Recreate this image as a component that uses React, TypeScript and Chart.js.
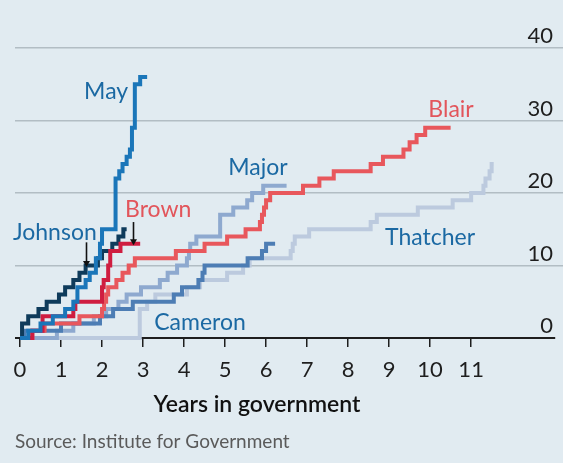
import React, { useEffect, useRef } from "react";
import { Chart, registerables } from "chart.js";

Chart.register(...registerables);

// ---- Data (years in government, cumulative count) ----
const mayYears = [0, 0.2, 0.5, 0.8, 1.1, 1.3, 1.4, 1.6, 1.7, 1.85, 1.95, 2.0, 2.33, 2.42, 2.5, 2.6, 2.68, 2.73, 2.8, 2.93, 3.1];
const mayCounts = [0, 1, 2, 3, 4, 5, 7, 8, 9, 11, 13, 15, 22, 23, 24, 25, 26, 29, 35, 36, 36];

const johnsonYears = [0, 0.05, 0.2, 0.45, 0.65, 0.95, 1.1, 1.3, 1.45, 1.6, 1.9, 2.0, 2.25, 2.4, 2.52, 2.6];
const johnsonCounts = [0, 2, 3, 4, 5, 6, 7, 8, 9, 10, 11, 12, 13, 14, 15, 15];

const brownYears = [0, 0.3, 0.55, 1.3, 1.35, 2.0, 2.04, 2.15, 2.2, 2.45, 2.93];
const brownCounts = [0, 1, 3, 4, 5, 7, 8, 10, 12, 13, 13];

const blairYears = [0, 0.3, 0.6, 1.45, 2.0, 2.05, 2.1, 2.15, 2.35, 2.5, 2.65, 2.8, 3.8, 4.5, 5.05, 5.5, 5.85, 5.9, 5.95, 6.0, 6.1, 6.9, 7.3, 7.65, 8.55, 8.85, 9.35, 9.5, 9.67, 9.88, 10.5];
const blairCounts = [0, 1, 2, 3, 4, 5, 6, 7, 8, 9, 10, 11, 12, 13, 14, 15, 16, 17, 18, 19, 20, 21, 22, 23, 24, 25, 26, 27, 28, 29, 29];

const cameronYears = [0, 0.1, 1.0, 1.95, 2.27, 2.75, 3.75, 3.95, 4.35, 4.45, 4.5, 5.55, 5.9, 6.0, 6.22];
const cameronCounts = [0, 1, 2, 3, 4, 5, 6, 7, 8, 9, 10, 11, 12, 13, 13];

const majorYears = [0, 0.9, 1.3, 1.8, 2.1, 2.4, 2.6, 2.95, 3.41, 3.6, 3.83, 4.07, 4.12, 4.15, 4.3, 4.88, 5.2, 5.54, 5.66, 5.93, 6.5];
const majorCounts = [0, 1, 2, 3, 4, 5, 6, 7, 8, 9, 10, 11, 12, 13, 14, 17, 18, 19, 20, 21, 21];

const thatcherYears = [0, 2.92, 3.1, 3.3, 4.07, 4.39, 5.05, 5.44, 5.6, 6.6, 6.65, 6.7, 7.05, 8.55, 8.7, 9.7, 10.55, 11.0, 11.3, 11.35, 11.45, 11.5, 11.55];
const thatcherCounts = [0, 4, 5, 6, 7, 8, 9, 10, 11, 12, 13, 14, 15, 16, 17, 18, 19, 20, 21, 22, 23, 24, 24];

const xTickValues = [0, 1, 2, 3, 4, 5, 6, 7, 8, 9, 10, 11];
const yTickValues = [0, 10, 20, 30, 40];

// Series labels (text, anchor in data units)
const labelNames = ["May", "Johnson", "Brown", "Blair", "Major", "Thatcher", "Cameron"];
const labelYears = [2.1, 0.85, 3.37, 10.51, 5.8, 10.0, 4.39];
const labelValues = [33.0, 13.5, 16.7, 30.5, 22.5, 12.8, 1.1];
const labelColors = ["#1b69a3", "#1b69a3", "#e2555b", "#e2555b", "#1b69a3", "#1b69a3", "#1b69a3"];

// Arrow annotations: x (years), from value, to value
const arrowYears = [1.61, 2.76];
const arrowFrom = [13.2, 16.0];
const arrowTo = [9.8, 12.8];

const xTitle = "Years in government";
const sourceText = "Source: Institute for Government";

const BG = "#e1ebf1";
const FONT = "Lato, 'Open Sans', sans-serif";

export default function App() {
  const ref = useRef<HTMLCanvasElement>(null);

  useEffect(() => {
    document.body.style.margin = "0";
    document.body.style.background = BG;
    const canvas = ref.current!;
    const pts = (xs: number[], ys: number[]) => xs.map((x, i) => ({ x, y: ys[i] }));
    const ds = (label: string, xs: number[], ys: number[], color: string) => ({
      label,
      data: pts(xs, ys),
      borderColor: color,
      backgroundColor: color,
      borderWidth: 4,
      stepped: "before" as const,
      pointRadius: 0,
      fill: false,
      clip: false as any,
      borderCapStyle: "butt" as const,
      borderJoinStyle: "miter" as const,
    });

    const overlay = {
      id: "overlay",
      beforeDraw(chart: any) {
        const c = chart.ctx;
        c.save();
        c.fillStyle = BG;
        c.fillRect(0, 0, chart.width, chart.height);
        c.restore();
      },
      beforeDatasetsDraw(chart: any) {
        const c = chart.ctx;
        const xs = chart.scales.x;
        const ys = chart.scales.y;
        const y0 = ys.getPixelForValue(0);
        c.save();
        c.strokeStyle = "#1e1e1e";
        c.lineWidth = 2;
        c.beginPath();
        c.moveTo(chart.chartArea.left, y0);
        c.lineTo(xs.getPixelForValue(13.05), y0);
        c.stroke();
        c.restore();
      },
      afterDatasetsDraw(chart: any) {
        const c = chart.ctx;
        const xs = chart.scales.x;
        const ys = chart.scales.y;
        const area = chart.chartArea;
        c.save();
        // series labels
        c.font = `23px ${FONT}`;
        c.textAlign = "center";
        c.textBaseline = "alphabetic";
        labelNames.forEach((n, i) => {
          c.fillStyle = labelColors[i];
          c.fillText(n, xs.getPixelForValue(labelYears[i]), ys.getPixelForValue(labelValues[i]));
        });
        // arrows
        c.strokeStyle = "#111";
        c.fillStyle = "#111";
        c.lineWidth = 1.6;
        arrowYears.forEach((ax, i) => {
          const px = Math.round(xs.getPixelForValue(ax)) + 0.5;
          const top = ys.getPixelForValue(arrowFrom[i]);
          const tip = ys.getPixelForValue(arrowTo[i]);
          c.beginPath();
          c.moveTo(px, top);
          c.lineTo(px, tip - 5);
          c.stroke();
          c.beginPath();
          c.moveTo(px - 3.5, tip - 6);
          c.lineTo(px + 3.5, tip - 6);
          c.lineTo(px, tip);
          c.closePath();
          c.fill();
        });
        // y tick labels (right, above gridlines)
        c.font = `22px ${FONT}`;
        c.fillStyle = "#1e1e1e";
        c.textAlign = "right";
        c.textBaseline = "alphabetic";
        yTickValues.forEach((v) => {
          c.fillText(String(v), area.right - 10, ys.getPixelForValue(v) - 5);
        });
        // x tick labels below tick marks
        c.textAlign = "center";
        xTickValues.forEach((v) => {
          c.fillText(String(v), xs.getPixelForValue(v), 377);
        });
        // axis title and source
        c.font = `600 23px ${FONT}`;
        c.fillStyle = "#111";
        c.textAlign = "center";
        c.fillText(xTitle, 257, 412);
        c.font = `19px ${FONT}`;
        c.fillStyle = "#5a5a5a";
        c.textAlign = "left";
        c.fillText(sourceText, 15, 448);
        c.restore();
      },
    };

    const chart = new Chart(canvas, {
      type: "line",
      data: {
        datasets: [
          ds("May", mayYears, mayCounts, "#1b76b9"),
          ds("Brown", brownYears, brownCounts, "#cf1d40"),
          ds("Johnson", johnsonYears, johnsonCounts, "#0e3b5b"),
          ds("Blair", blairYears, blairCounts, "#e8575c"),
          ds("Cameron", cameronYears, cameronCounts, "#4d7db4"),
          ds("Major", majorYears, majorCounts, "#8ea9cf"),
          ds("Thatcher", thatcherYears, thatcherCounts, "#bccade"),
        ] as any,
      },
      options: {
        responsive: false,
        animation: false,
        devicePixelRatio: 1,
        layout: { padding: { left: 15, right: 0, top: 30, bottom: 116 } },
        plugins: { legend: { display: false }, tooltip: { enabled: false } },
        scales: {
          x: {
            type: "linear",
            min: -0.122,
            max: 13.24,
            afterBuildTicks: (s: any) => {
              s.ticks = xTickValues.map((v) => ({ value: v }));
            },
            ticks: { display: false },
            grid: { drawOnChartArea: false, drawTicks: true, tickLength: 9, color: "#1e1e1e", lineWidth: 1.5 },
            border: { display: false },
          },
          y: {
            type: "linear",
            min: 0,
            max: 42.5,
            afterBuildTicks: (s: any) => {
              s.ticks = yTickValues.map((v) => ({ value: v }));
            },
            ticks: { display: false },
            grid: {
              drawTicks: false,
              color: (ctx: any) => (ctx.tick && ctx.tick.value === 0 ? "rgba(0,0,0,0)" : "#b2bdc4"),
              lineWidth: 1.5,
            },
            border: { display: false },
          },
        },
      } as any,
      plugins: [overlay],
    });
    return () => chart.destroy();
  }, []);

  return (
    <div style={{ width: 563, height: 463, background: BG }}>
      <canvas ref={ref} width={563} height={463} style={{ display: "block" }} />
    </div>
  );
}
